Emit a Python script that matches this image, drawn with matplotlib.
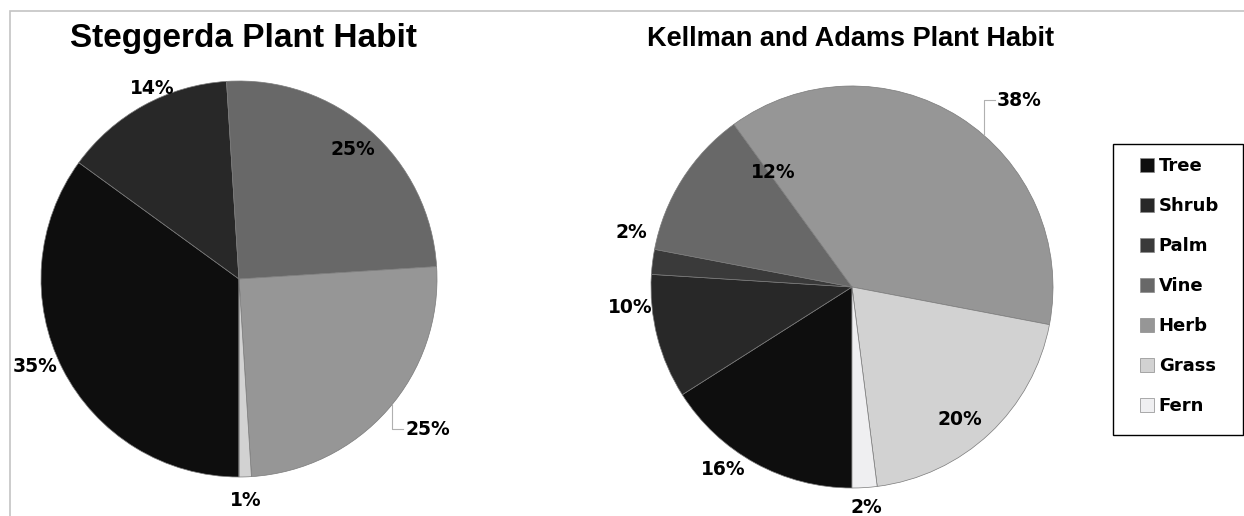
import numpy as np
import matplotlib
matplotlib.use("Agg")
import matplotlib.pyplot as plt
from matplotlib.patches import Rectangle
from matplotlib.lines import Line2D

plt.rcParams['font.family'] = ['Liberation Sans', 'DejaVu Sans']
plt.rcParams['font.weight'] = 'bold'

categorias = ['Tree', 'Shrub', 'Palm', 'Vine', 'Herb', 'Grass', 'Fern']
colores = ['#0e0e0e', '#282828', '#3a3a3a', '#686868', '#969696', '#d2d2d2', '#efeff1']

steggerda = [35, 14, 0, 25, 25, 1, 0]
kellman = [16, 10, 2, 12, 38, 20, 2]

titulos = ['Steggerda Plant Habit', 'Kellman and Adams Plant Habit']

# posicion de etiquetas: (desfase de angulo, distancia radial, con linea guia)
pos_steggerda = {0: (-3.7, 1.12, False), 1: (-4.3, 1.06, False), 3: (0, 0.87, False),
                 4: (-0.7, 1.13, True), 5: (0, 1.12, False)}
pos_kellman = {0: (-6.4, 1.11, False), 1: (-9, 1.11, False), 2: (-6.8, 1.13, False),
               3: (-23, 0.69, False), 4: (-5.4, 1.177, True), 5: (-4, 0.85, False),
               6: (0, 1.1, False)}

W, H = 1244, 516
fig = plt.figure(figsize=(W / 100, H / 100), dpi=100)
fuente_pct = dict(family='DejaVu Sans', fontsize=13.5, fontweight='bold')

# borde gris (recortado a la derecha y abajo)
fig.patches.append(Rectangle((10 / W, -0.1), 1.2, 1 - 11 / H + 0.1, transform=fig.transFigure,
                             fill=False, edgecolor='#c4c4c4', linewidth=1.2))

def dibujar(cx, cy, r, valores, pos, titulo, tx, ty, tsize):
    ax = fig.add_axes([(cx - r) / W, 1 - (cy + r) / H, 2 * r / W, 2 * r / H])
    wedges, _ = ax.pie(valores, colors=colores, startangle=270, counterclock=False,
                       wedgeprops=dict(edgecolor='#7a7a7a', linewidth=0.5))
    ax.set_xlim(-1, 1)
    ax.set_ylim(-1, 1)
    ax.set_aspect('equal')
    ax.axis('off')
    for i, w in enumerate(wedges):
        if i not in pos:
            continue
        da, d, guia = pos[i]
        a = np.deg2rad((w.theta1 + w.theta2) / 2 + da)
        x, y = d * np.cos(a), d * np.sin(a)
        txt = f'{valores[i]}%'
        if guia:
            x0 = x - 0.065
            y0 = np.sign(y) * np.sqrt(1 - x0 ** 2)
            ax.plot([x0, x0, x - 0.01], [y0, y, y], color='#b0b0b0', lw=0.8, clip_on=False)
            ax.text(x, y, txt, ha='left', va='center', **fuente_pct)
        else:
            ax.text(x, y, txt, ha='center', va='center', **fuente_pct)
    fig.text(tx / W, 1 - ty / H, titulo, ha='center', va='baseline', fontsize=tsize,
             fontweight='bold')
    return wedges

dibujar(239, 279, 198, steggerda, pos_steggerda, titulos[0], 243, 47, 24)
dibujar(852, 287, 201, kellman, pos_kellman, titulos[1], 851, 46, 19.5)

# leyenda con marco dibujado aparte
fig.patches.append(Rectangle((1113 / W, 1 - 435 / H), 130 / W, 291 / H, transform=fig.transFigure,
                             fill=False, edgecolor='black', linewidth=1.0))
handles = [Line2D([], [], ls='none', marker='s', markersize=10, markerfacecolor=c,
                  markeredgecolor='#8a8a8a', markeredgewidth=0.5) for c in colores]
leg = fig.legend(handles, categorias, loc='upper left', bbox_to_anchor=(1124 / W, 1 - 157 / H),
                 frameon=False, prop=dict(family='DejaVu Sans', size=13, weight='bold'),
                 handlelength=2.6, handletextpad=-0.67, labelspacing=1.22,
                 borderpad=0, borderaxespad=0)

fig.savefig('out.png', dpi=100)
